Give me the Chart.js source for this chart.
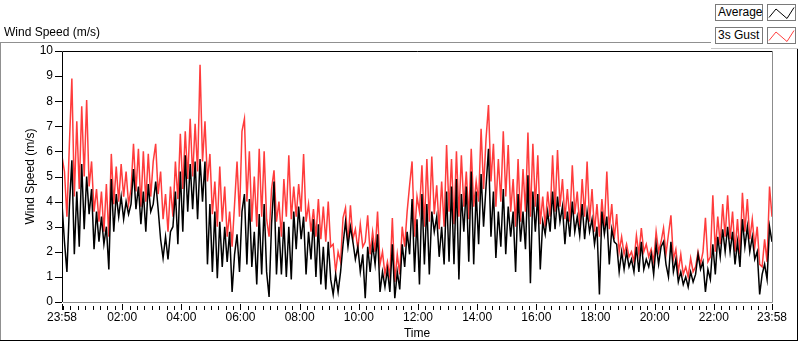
<!DOCTYPE html>
<html>
<head>
<meta charset="utf-8">
<title>Wind Speed (m/s)</title>
<script src="https://cdn.jsdelivr.net/npm/chart.js@4.4.1/dist/chart.umd.min.js"></script>
<style>
  body { margin: 0; background: #fff; font-family: 'Liberation Sans', Arial, sans-serif; font-size: 12px; color: #000; }
  #panel { position: relative; width: 800px; height: 342px; overflow: hidden; }
  #windChart { position: absolute; left: 0; top: 0; }
  .rule { position: absolute; }
  #chartTitle { position: absolute; left: 4px; top: 25px; line-height: 14px; white-space: nowrap; }
  .legendName, .legendIcon { position: absolute; box-sizing: border-box; height: 17px; border: 1px solid #7a7a7a; background: #fff; }
  .legendName { left: 715px; width: 48px; padding-left: 2px; line-height: 15px; white-space: nowrap; }
  .legendIcon { left: 767px; width: 29px; }
  .legendIcon svg { display: block; }
</style>
</head>
<body>
<div id="panel">
  <canvas id="windChart" width="800" height="342"></canvas>

  <div id="chartTitle">Wind Speed (m/s)</div>

  <!-- frame round the graph -->
  <div class="rule" style="left:0;top:42px;width:711px;height:1px;background:#909090"></div>
  <div class="rule" style="left:0;top:42px;width:1px;height:299px;background:#909090"></div>
  <div class="rule" style="left:0;top:340px;width:798px;height:1px;background:#000"></div>
  <div class="rule" style="left:797px;top:48px;width:1px;height:293px;background:#000"></div>
  <div class="rule" style="left:711px;top:48px;width:87px;height:1px;background:#c8c8c8"></div>

  <!-- plot legend -->
  <div class="legendName" style="top:4px">Average</div>
  <div class="legendIcon" style="top:4px">
    <svg width="27" height="15"><polyline points="1,12.5 8,4 19,13.5 26,2.5" fill="none" stroke="#000" stroke-width="1"/></svg>
  </div>
  <div class="legendName" style="top:27px">3s Gust</div>
  <div class="legendIcon" style="top:27px">
    <svg width="27" height="15"><polyline points="1,12.5 8,4 19,13.5 26,2.5" fill="none" stroke="#ff4040" stroke-width="1"/></svg>
  </div>
</div>

<script>
// one reading every 5 minutes, starting 23:58
const SAMPLE_MINUTES = 5;

const avgSpeed = [
    3.9,2.4,1.2,3.8,5.65,1.9,4.4,2.2,5.5,2.9, 5.0,3.5,4.5,2.1,3.6,2.4,3.4,2.3,3.0,1.3,
    4.9,2.8,4.3,3.4,4.2,3.3,4.0,3.5,3.9,5.3, 3.7,4.6,3.1,4.4,2.8,4.7,3.6,3.9,4.8,3.7,
    2.5,1.75,2.6,1.7,2.8,3.0,4.4,2.3,5.2,2.8, 5.85,3.6,5.5,3.7,5.6,3.3,5.7,4.0,
    5.6,1.5,3.9,1.2,3.6,0.95,3.2,1.4,3.0,1.6, 2.8,0.4,1.9,2.7,1.2,3.6,4.3,1.5,4.1,1.4,
    2.8,0.7,3.5,1.1,3.9,1.2,0.2,3.1,4.8,1.1, 3.0,1.1,3.2,1.0,3.0,0.9,3.6,2.1,3.8,2.5,
    3.4,1.1,2.8,1.7,3.3,1.0,3.1,0.7,2.2,0.5, 2.4,0.9,0.3,1.1,0.4,1.2,2.3,
    3.2,2.2,3.0,2.4,1.7,2.2,1.2,1.9,0.15,2.2, 1.2,2.3,1.5,2.7,0.4,1.2,0.6,1.3,0.4,2.3,
    0.15,1.2,0.5,2.3,1.4,2.8,1.9,4.1,1.2,3.3, 0.7,4.3,1.5,3.9,1.1,3.6,2.8,3.4,1.8,3.0,
    1.5,4.4,1.6,4.6,1.5,4.9,0.9,4.3,2.8,4.6, 1.6,5.2,1.5,4.4,2.3,5.1,3.0,4.6,
    6.1,2.6,4.4,1.75,3.6,2.2,4.5,1.9,3.8,2.6, 3.6,1.2,4.3,2.4,3.6,2.1,5.05,0.75,4.4,2.8,
    4.3,1.3,3.2,2.7,3.6,2.8,4.4,2.9,4.2,3.2, 3.8,2.3,3.6,2.6,4.0,2.8,3.4,2.65,3.9,2.5,
    3.6,2.8,3.3,2.3,3.0,0.3,3.6,2.7,3.4,1.5, 2.9,2.4,2.3,1.2,2.0,1.3,2.0,1.4,
    1.7,1.2,2.2,1.2,2.4,1.3,1.7,1.4,1.9,1.1, 2.3,1.5,2.2,2.4,1.5,1.0,2.4,1.2,1.7,0.8,
    1.2,0.7,1.0,0.6,1.2,0.8,1.1,1.9,1.3,1.6, 0.4,1.3,0.9,2.3,1.1,2.6,1.8,2.9,2.0,3.0,
    2.0,2.8,1.5,2.4,1.4,3.3,2.2,3.0,2.0,2.6, 1.7,2.0,0.3,1.1,1.5,0.9,3.0,2.4
];

const gustSpeed = [
    5.8,5.2,3.4,6.3,8.9,4.2,7.2,4.5,7.8,5.0, 8.05,4.6,5.6,3.6,4.5,3.2,4.4,2.8,4.7,2.6,
    5.9,3.9,5.4,4.0,5.5,4.2,5.2,3.9,4.5,6.3, 4.4,6.1,3.8,6.0,4.0,5.9,4.2,5.6,6.3,4.3,
    5.2,3.3,4.3,2.8,4.6,3.4,5.6,4.1,6.7,4.5, 6.8,4.9,7.3,5.0,7.1,5.2,9.45,5.6,
    7.2,4.8,5.9,3.5,4.8,3.0,5.4,3.2,4.6,2.6, 3.6,2.2,3.9,5.6,3.4,6.8,7.3,4.0,6.0,3.2,
    5.0,3.0,6.1,3.4,6.0,3.3,2.6,4.5,5.25,3.2, 4.0,2.6,4.9,3.4,5.85,3.3,4.6,3.4,4.7,3.6,
    5.9,3.2,3.9,2.8,3.7,2.6,4.1,2.5,3.8,2.4, 4.0,2.2,2.3,1.2,2.0,1.6,3.35,
    3.75,2.3,3.85,2.5,2.9,2.1,3.1,2.2,2.4,3.45, 1.9,2.8,2.0,3.6,1.5,2.0,1.1,1.6,1.0,3.35,
    0.8,1.9,1.1,3.0,2.2,3.6,4.65,5.6,2.6,4.2, 3.6,5.45,3.0,5.7,3.2,5.8,3.5,4.65,2.9,4.8,
    3.0,6.25,3.6,5.7,3.1,6.0,3.4,5.85,3.8,5.2, 3.3,6.1,3.8,4.8,4.0,6.9,4.5,6.5,
    7.85,4.8,6.3,3.8,5.7,4.0,6.8,4.2,6.25,3.6, 4.9,3.0,5.7,3.2,5.3,3.6,6.75,3.4,6.3,3.8,
    5.85,3.1,4.2,3.0,4.4,3.4,5.85,3.6,6.05,3.8, 4.9,3.3,4.5,3.2,5.45,3.5,4.4,3.0,4.9,3.4,
    5.6,3.2,4.5,2.8,3.9,2.6,4.1,3.0,5.2,2.9, 3.9,2.5,3.5,2.0,2.6,1.9,2.3,1.8,
    2.0,1.6,2.65,1.9,2.95,2.0,2.3,1.8,2.1,1.6, 2.8,2.0,2.4,2.95,1.9,2.7,3.45,1.7,2.1,1.2,
    1.9,1.1,1.4,1.0,1.75,1.2,1.4,2.0,1.5,2.0, 3.35,1.6,1.8,4.25,2.0,3.4,2.3,3.9,2.6,4.25,
    2.5,3.6,2.0,3.3,1.9,4.35,2.8,4.1,2.5,3.3, 2.2,3.0,1.5,1.4,2.5,1.6,4.6,3.4
];

// labelled time ticks, in minutes after the 23:58 start
const timeLabels = ['23:58', '02:00', '04:00', '06:00', '08:00', '10:00', '12:00',
                    '14:00', '16:00', '18:00', '20:00', '22:00', '23:58'];
const labelMinutes = [0, 122, 242, 362, 482, 602, 722, 842, 962, 1082, 1202, 1322, 1440];
const speedTicks = [0, 1, 2, 3, 4, 5, 6, 7, 8, 9, 10];

const FONT = { family: "'Liberation Sans', Arial, sans-serif", size: 12 };

let windChart;

document.addEventListener('DOMContentLoaded', () => {
    setupChart();
});

function toPoints(values) {
    return values.map((v, i) => ({ x: i * SAMPLE_MINUTES, y: v }));
}

// small ticks on every quarter hour of the clock
function quarterMinutes() {
    const out = [];
    for (let m = 2; m < 1440; m += 15) {
        if (!labelMinutes.includes(m)) out.push(m);
    }
    return out;
}

// ticks and the sunken border of the plot area
const plotFrame = {
    id: 'plotFrame',
    afterDraw(chart) {
        const { ctx, chartArea: a, scales: { x, y } } = chart;
        ctx.save();
        ctx.lineWidth = 1;

        ctx.strokeStyle = '#000';
        ctx.beginPath();
        speedTicks.forEach(v => {
            const py = Math.round(y.getPixelForValue(v)) + 0.5;
            ctx.moveTo(a.left - 7, py);
            ctx.lineTo(a.left, py);
        });
        quarterMinutes().forEach(m => {
            const px = Math.round(x.getPixelForValue(m)) + 0.5;
            ctx.moveTo(px, a.bottom + 4);
            ctx.lineTo(px, a.bottom + 8);
        });
        labelMinutes.forEach(m => {
            const px = Math.round(x.getPixelForValue(m)) + 0.5;
            ctx.moveTo(px, a.bottom + 2);
            ctx.lineTo(px, a.bottom + 8);
        });
        ctx.stroke();

        ctx.beginPath();
        ctx.moveTo(a.left + 0.5, a.bottom);
        ctx.lineTo(a.left + 0.5, a.top + 0.5);
        ctx.lineTo(a.right, a.top + 0.5);
        ctx.stroke();

        ctx.strokeStyle = '#8c8c8c';
        ctx.beginPath();
        ctx.moveTo(a.right + 0.5, a.top);
        ctx.lineTo(a.right + 0.5, a.bottom + 0.5);
        ctx.lineTo(a.left + 1, a.bottom + 0.5);
        ctx.stroke();
        ctx.restore();
    }
};

function setupChart() {
    const ctx = document.getElementById('windChart').getContext('2d');
    windChart = new Chart(ctx, {
        type: 'line',
        data: {
            datasets: [
                { label: 'Average', data: toPoints(avgSpeed), borderColor: '#000000', borderWidth: 1.5, pointRadius: 0, tension: 0 },
                { label: '3s Gust', data: toPoints(gustSpeed), borderColor: '#ff3c3c', borderWidth: 1.5, pointRadius: 0, tension: 0 }
            ]
        },
        options: {
            responsive: false,
            animation: false,
            events: [],
            layout: { padding: { left: 0, top: 51, right: 28, bottom: 0 } },
            plugins: { legend: { display: false }, tooltip: { enabled: false } },
            scales: {
                x: {
                    type: 'linear', min: 0, max: 1440,
                    afterBuildTicks: axis => { axis.ticks = labelMinutes.map(value => ({ value })); },
                    afterFit: axis => { axis.height = 40; },
                    ticks: { autoSkip: false, maxRotation: 0, color: '#000', font: FONT, padding: 2,
                             callback: (value, index) => timeLabels[index] },
                    grid: { display: false, drawTicks: true, tickLength: 6 },
                    border: { display: false },
                    title: { display: true, text: 'Time', color: '#000', font: FONT, padding: { top: 0, bottom: 1 } }
                },
                y: {
                    min: 0, max: 10,
                    afterBuildTicks: axis => { axis.ticks = speedTicks.map(value => ({ value })); },
                    afterFit: axis => { axis.width = 62; },
                    ticks: { color: '#000', font: FONT, padding: 3 },
                    grid: { display: false, drawTicks: true, tickLength: 6 },
                    border: { display: false },
                    title: { display: true, text: 'Wind Speed (m/s)', color: '#000', font: FONT, padding: { top: 23, bottom: 0 } }
                }
            }
        },
        plugins: [plotFrame]
    });
}
</script>
</body>
</html>
